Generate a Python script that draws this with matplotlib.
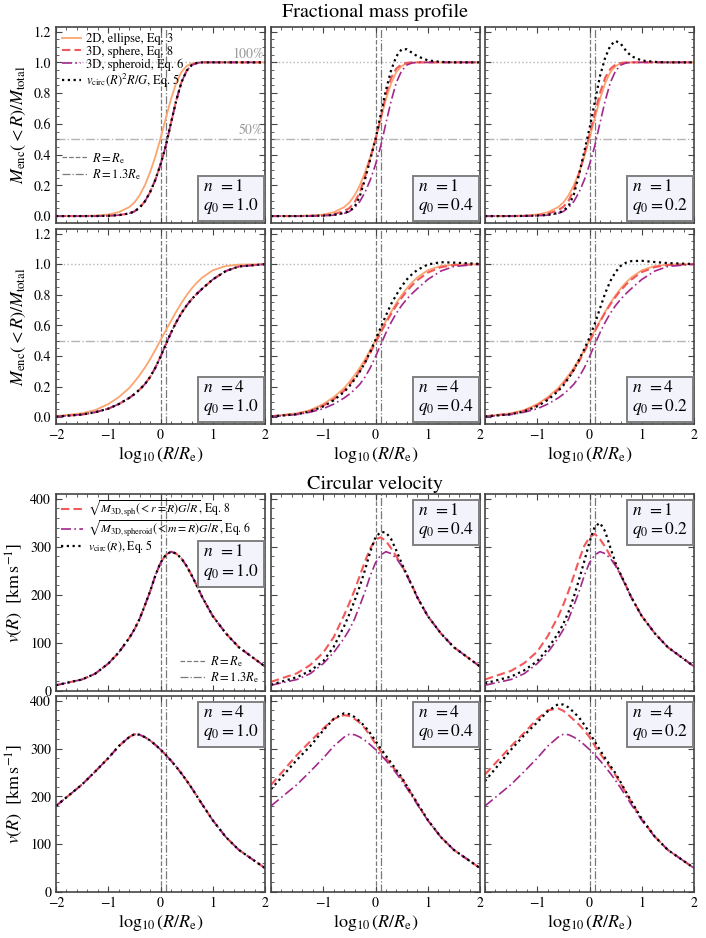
import numpy as np
import matplotlib
matplotlib.use("Agg")
import matplotlib.pyplot as plt
from matplotlib.ticker import MultipleLocator
from matplotlib.lines import Line2D

plt.rcParams.update({
    "font.family": "STIXGeneral",
    "mathtext.fontset": "stix",
    "font.size": 10,
    "axes.linewidth": 1.2,
    "axes.edgecolor": "#454545",
    "xtick.direction": "in",
    "ytick.direction": "in",
    "xtick.top": True,
    "ytick.right": True,
    "xtick.color": "#454545",
    "ytick.color": "#454545",
    "xtick.labelcolor": "black",
    "ytick.labelcolor": "black",
    "xtick.major.size": 4,
    "ytick.major.size": 4,
    "xtick.minor.size": 2,
    "ytick.minor.size": 2,
    "xtick.labelsize": 10,
    "ytick.labelsize": 10,
})

# ---- data (x = log10(R/Re)) ----
logR = [-2.0, -1.5, -1.25, -1.0, -0.8, -0.6, -0.5, -0.4, -0.3, -0.2, -0.1, 0.0,
        0.1, 0.2, 0.3, 0.4, 0.5, 0.6, 0.7, 0.8, 1.0, 1.25, 1.5, 2.0]

q_labels = ["1.0", "0.4", "0.2"]

# fractional enclosed mass, n = 1
m2d_n1 = [0.000, 0.001, 0.003, 0.010, 0.025, 0.058, 0.088, 0.135, 0.200, 0.285, 0.385, 0.505,
          0.635, 0.760, 0.865, 0.937, 0.976, 0.993, 0.998, 1.0, 1.0, 1.0, 1.0, 1.0]
m3d_n1 = [0.000, 0.000, 0.000, 0.002, 0.006, 0.017, 0.030, 0.055, 0.095, 0.155, 0.235, 0.335,
          0.455, 0.605, 0.750, 0.870, 0.945, 0.983, 0.996, 1.0, 1.0, 1.0, 1.0, 1.0]
msph_n1_q04 = [0.000, 0.000, 0.001, 0.004, 0.012, 0.033, 0.052, 0.090, 0.155, 0.255, 0.375, 0.495,
               0.635, 0.790, 0.900, 0.960, 0.987, 0.997, 1.0, 1.0, 1.0, 1.0, 1.0, 1.0]
msph_n1_q02 = [0.000, 0.000, 0.001, 0.005, 0.015, 0.038, 0.060, 0.100, 0.170, 0.275, 0.400, 0.530,
               0.665, 0.800, 0.900, 0.958, 0.986, 0.996, 1.0, 1.0, 1.0, 1.0, 1.0, 1.0]
mcirc_n1_q04 = [0.000, 0.000, 0.001, 0.003, 0.008, 0.020, 0.032, 0.060, 0.130, 0.240, 0.370, 0.500,
                0.660, 0.820, 0.950, 1.040, 1.085, 1.085, 1.062, 1.040, 1.013, 1.003, 1.000, 1.000]
mcirc_n1_q02 = [0.000, 0.000, 0.001, 0.003, 0.008, 0.020, 0.035, 0.065, 0.140, 0.270, 0.420, 0.570,
                0.740, 0.910, 1.030, 1.110, 1.140, 1.120, 1.075, 1.040, 1.012, 1.003, 1.000, 1.000]

# fractional enclosed mass, n = 4
m2d_n4 = [0.006, 0.025, 0.046, 0.085, 0.130, 0.190, 0.230, 0.274, 0.323, 0.378, 0.439, 0.503,
          0.566, 0.628, 0.689, 0.746, 0.797, 0.842, 0.881, 0.913, 0.960, 0.988, 0.997, 1.0]
m3d_n4 = [0.003, 0.017, 0.032, 0.055, 0.085, 0.125, 0.150, 0.180, 0.215, 0.262, 0.322, 0.395,
          0.474, 0.551, 0.620, 0.680, 0.730, 0.772, 0.808, 0.840, 0.900, 0.955, 0.985, 1.0]
msph_n4_q04 = [0.005, 0.021, 0.040, 0.075, 0.117, 0.173, 0.211, 0.254, 0.302, 0.357, 0.419, 0.486,
               0.552, 0.616, 0.676, 0.731, 0.780, 0.824, 0.862, 0.895, 0.945, 0.980, 0.994, 1.0]
msph_n4_q02 = [0.005, 0.022, 0.042, 0.078, 0.121, 0.178, 0.217, 0.260, 0.309, 0.364, 0.427, 0.494,
               0.560, 0.624, 0.684, 0.738, 0.787, 0.830, 0.867, 0.899, 0.948, 0.981, 0.995, 1.0]
mcirc_n4_q04 = [0.004, 0.019, 0.037, 0.070, 0.110, 0.165, 0.202, 0.246, 0.297, 0.357, 0.428, 0.505,
                0.585, 0.665, 0.740, 0.800, 0.855, 0.900, 0.935, 0.962, 0.998, 1.013, 1.010, 1.002]
mcirc_n4_q02 = [0.004, 0.019, 0.037, 0.071, 0.112, 0.170, 0.208, 0.255, 0.310, 0.375, 0.445, 0.520,
                0.610, 0.710, 0.810, 0.890, 0.950, 0.990, 1.010, 1.020, 1.022, 1.014, 1.007, 1.001]

# circular velocity [km/s], n = 1
v3d_n1 = [12, 24, 36, 57, 80, 110, 128, 150, 178, 207, 240, 267,
          283, 290, 286, 276, 260, 240, 218, 195, 156, 120, 91, 51]
vsph_n1_q04 = [19, 37, 54, 80, 112, 158, 183, 210, 240, 270, 297, 315,
               320, 312, 297, 280, 262, 242, 220, 195, 156, 120, 91, 51]
vsph_n1_q02 = [24, 42, 58, 82, 114, 155, 180, 208, 240, 273, 302, 320,
               327, 316, 300, 281, 262, 241, 219, 195, 156, 120, 91, 51]
vcirc_n1_q04 = [13, 29, 42, 62, 92, 135, 160, 188, 218, 252, 290, 320,
                331, 330, 316, 292, 266, 242, 219, 195, 156, 120, 91, 51]
vcirc_n1_q02 = [16, 30, 43, 62, 88, 120, 140, 165, 196, 232, 270, 310,
                342, 350, 332, 298, 266, 242, 219, 195, 156, 120, 91, 51]

# circular velocity [km/s], n = 4
v3d_n4 = [180, 225, 252, 280, 305, 324, 330, 329, 324, 317, 308, 298,
          287, 275, 262, 248, 233, 217, 200, 183, 150, 115, 88, 50]
vsph_n4_q04 = [224, 287, 315, 342, 362, 370, 368, 362, 354, 342, 327, 310,
               294, 280, 266, 252, 238, 221, 203, 185, 150, 115, 88, 50]
vsph_n4_q02 = [246, 305, 333, 362, 380, 384, 379, 370, 360, 350, 338, 324,
               306, 290, 275, 260, 244, 226, 207, 188, 152, 116, 88, 50]
vcirc_n4_q04 = [215, 277, 305, 338, 362, 374, 372, 366, 357, 346, 332, 316,
                300, 285, 270, 255, 240, 222, 204, 186, 151, 115, 88, 50]
vcirc_n4_q02 = [232, 298, 328, 355, 378, 393, 392, 386, 376, 365, 350, 333,
                315, 297, 280, 264, 248, 229, 209, 190, 153, 116, 88, 50]

# panel contents: (n, [(2D, sphere, spheroid, vcirc) for each q])
mass_rows = [
    ("1", [(m2d_n1, m3d_n1, m3d_n1, m3d_n1),
           (m2d_n1, msph_n1_q04, m3d_n1, mcirc_n1_q04),
           (m2d_n1, msph_n1_q02, m3d_n1, mcirc_n1_q02)]),
    ("4", [(m2d_n4, m3d_n4, m3d_n4, m3d_n4),
           (m2d_n4, msph_n4_q04, m3d_n4, mcirc_n4_q04),
           (m2d_n4, msph_n4_q02, m3d_n4, mcirc_n4_q02)]),
]
vel_rows = [
    ("1", [(v3d_n1, v3d_n1, v3d_n1),
           (vsph_n1_q04, v3d_n1, vcirc_n1_q04),
           (vsph_n1_q02, v3d_n1, vcirc_n1_q02)]),
    ("4", [(v3d_n4, v3d_n4, v3d_n4),
           (vsph_n4_q04, v3d_n4, vcirc_n4_q04),
           (vsph_n4_q02, v3d_n4, vcirc_n4_q02)]),
]

c_2d = "#fba571"
c_sph = "#f3585a"
c_spd = "#a3288c"
c_ref = "#7a7a7a"
c_pct = "#b5b5b5"
box_face = "#f3f3fc"
box_edge = "#808080"

W, H = 706, 938
col_left = [56, 271, 485]
col_w = 209
row_span = [(27, 223), (229, 424), (494, 691), (696, 892)]

fig = plt.figure(figsize=(W / 100, H / 100), dpi=100)


def make_ax(r, c):
    top, bot = row_span[r]
    return fig.add_axes([col_left[c] / W, 1 - bot / H, col_w / W, (bot - top) / H])


def ref_lines(ax):
    ax.axvline(0.0, color=c_ref, ls="--", lw=0.9, zorder=1)
    ax.axvline(np.log10(1.3), color=c_ref, ls="-.", lw=0.9, zorder=1)


def label_box(ax, n, q, x, y, va):
    ax.text(x, y, r"$n\ \,=1$".replace("1", n) + "\n" + r"$q_0=%s$" % q, transform=ax.transAxes,
            ha="right", va=va, multialignment="left", fontsize=12.5, linespacing=1.1, zorder=10,
            bbox=dict(boxstyle="square,pad=0.3", facecolor=box_face, edgecolor=box_edge, lw=1.4))


def style_x(ax, bottom, c):
    ax.set_xlim(-2, 2)
    ax.xaxis.set_major_locator(MultipleLocator(1))
    ax.xaxis.set_minor_locator(MultipleLocator(0.2))
    if bottom:
        ax.set_xlabel(r"$\log_{10}(R/R_{\rm e})$", fontsize=13, labelpad=2)
        if c > 0:
            ax.set_xticks([-2, -1, 0, 1, 2])
            ax.set_xticklabels(["", "\u22121", "0", "1", "2"])
    else:
        ax.tick_params(labelbottom=False)


def ref_legend(ax, **kw):
    g1 = Line2D([], [], color=c_ref, ls="--", lw=0.9)
    g2 = Line2D([], [], color=c_ref, ls="-.", lw=0.9)
    ax.legend([g1, g2], [r"$R=R_{\rm e}$", r"$R=1.3R_{\rm e}$"], frameon=False, fontsize=9,
              handlelength=2.0, handletextpad=0.4, labelspacing=0.1, borderpad=0.2, **kw)


# ---- mass profile panels ----
for r, (n, panels) in enumerate(mass_rows):
    for c, (m2d, msph, mspd, mcirc) in enumerate(panels):
        ax = make_ax(r, c)
        ax.axhline(1.0, color=c_pct, ls=":", lw=1.0, zorder=1)
        ax.axhline(0.5, color=c_pct, ls="-.", lw=1.0, zorder=1)
        ref_lines(ax)
        h1, = ax.plot(logR, m2d, color=c_2d, lw=1.3, label="2D, ellipse, Eq. 3")
        h2, = ax.plot(logR, msph, color=c_sph, lw=1.5, ls=(0, (4, 2)), label="3D, sphere, Eq. 8")
        h3, = ax.plot(logR, mspd, color=c_spd, lw=1.2, ls=(0, (6, 2, 1, 2)), label="3D, spheroid, Eq. 6")
        h4, = ax.plot(logR, mcirc, color="black", lw=1.6, ls=(0, (1, 1.6)),
                      label=r"$v_{\rm circ}(R)^2R/G$, Eq. 5")
        ax.set_ylim(-0.045, 1.23)
        ax.yaxis.set_major_locator(MultipleLocator(0.2))
        ax.yaxis.set_minor_locator(MultipleLocator(0.05))
        style_x(ax, r == 1, c)
        if c == 0:
            ax.set_ylabel(r"$M_{\rm enc}(<R)/M_{\rm total}$", fontsize=13, labelpad=4)
        else:
            ax.tick_params(labelleft=False)
        label_box(ax, n, q_labels[c], 0.97, 0.035, "bottom")
        if r == 0 and c == 0:
            ax.text(1.97, 1.012, "100%", color="#9a9a9a", fontsize=10, ha="right", va="bottom")
            ax.text(1.97, 0.512, "50%", color="#9a9a9a", fontsize=10, ha="right", va="bottom")
            leg = ax.legend(handles=[h1, h2, h3, h4], loc="upper left", frameon=False, fontsize=9,
                            handlelength=1.5, handletextpad=0.4, labelspacing=0.05,
                            borderaxespad=0.3, borderpad=0.2)
            ax.add_artist(leg)
            ref_legend(ax, loc="upper left", bbox_to_anchor=(0.0, 0.40), borderaxespad=0.3)

# ---- circular velocity panels ----
for r, (n, panels) in enumerate(vel_rows):
    for c, (vsph, vspd, vcirc) in enumerate(panels):
        ax = make_ax(r + 2, c)
        ref_lines(ax)
        h2, = ax.plot(logR, vsph, color=c_sph, lw=1.5, ls=(0, (4, 2)),
                      label=r"$\sqrt{M_{\rm 3D,sph}(<r=R)G/R}$, Eq. 8")
        h3, = ax.plot(logR, vspd, color=c_spd, lw=1.2, ls=(0, (6, 2, 1, 2)),
                      label=r"$\sqrt{M_{\rm 3D,spheroid}(<m=R)G/R}$, Eq. 6")
        h4, = ax.plot(logR, vcirc, color="black", lw=1.6, ls=(0, (1, 1.6)),
                      label=r"$v_{\rm circ}(R)$, Eq. 5")
        ax.set_ylim(0, 410)
        ax.yaxis.set_major_locator(MultipleLocator(100))
        ax.yaxis.set_minor_locator(MultipleLocator(20))
        style_x(ax, r == 1, c)
        if c == 0:
            ax.set_ylabel(r"$v(R)\ \ [{\rm km\,s^{-1}}]$", fontsize=13, labelpad=4)
        else:
            ax.tick_params(labelleft=False)
        if r == 0 and c == 0:
            label_box(ax, n, q_labels[c], 0.97, 0.745, "top")
            leg = ax.legend(handles=[h2, h3, h4], loc="upper left", frameon=False, fontsize=8.5,
                            handlelength=1.9, handletextpad=0.4, labelspacing=0.0,
                            borderaxespad=0.3, borderpad=0.1)
            ax.add_artist(leg)
            ref_legend(ax, loc="lower right", borderaxespad=0.3)
        else:
            label_box(ax, n, q_labels[c], 0.97, 0.955, "top")

fig.text(375 / W, 1 - 12 / H, "Fractional mass profile", ha="center", va="center", fontsize=14.5)
fig.text(375 / W, 1 - 484 / H, "Circular velocity", ha="center", va="center", fontsize=14.5)

fig.savefig("out.png", dpi=100)
